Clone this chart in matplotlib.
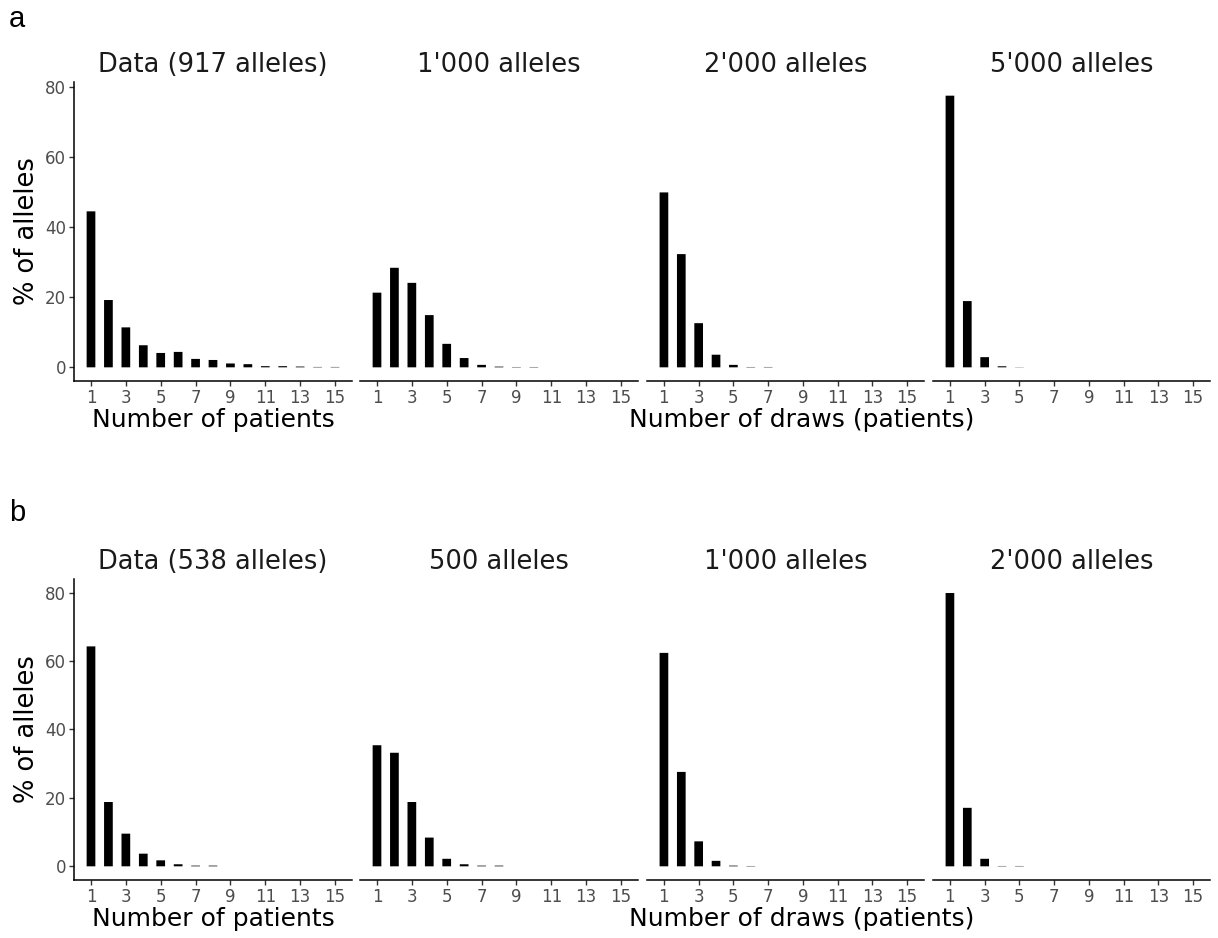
import matplotlib
matplotlib.use("Agg")
import matplotlib.pyplot as plt

# ---------------- data ----------------
patients = list(range(1, 16))
xticks = [1, 3, 5, 7, 9, 11, 13, 15]
yticks = [0, 20, 40, 60, 80]

titles_a = ["Data (917 alleles)", "1'000 alleles", "2'000 alleles", "5'000 alleles"]
data_a = [44.5, 19.2, 11.4, 6.3, 4.1, 4.4, 2.4, 2.1, 1.1, 0.9, 0.33, 0.33, 0.22, 0.11, 0.11]
sim_a_1000 = [21.3, 28.4, 24.1, 14.9, 6.7, 2.65, 0.7, 0.2, 0.1, 0.1, 0, 0, 0, 0, 0]
sim_a_2000 = [49.9, 32.3, 12.6, 3.6, 0.7, 0.1, 0.1, 0, 0, 0, 0, 0, 0, 0, 0]
sim_a_5000 = [77.5, 18.9, 2.9, 0.3, 0.05, 0, 0, 0, 0, 0, 0, 0, 0, 0, 0]

titles_b = ["Data (538 alleles)", "500 alleles", "1'000 alleles", "2'000 alleles"]
data_b = [64.3, 18.8, 9.55, 3.7, 1.75, 0.6, 0.2, 0.2, 0, 0, 0, 0, 0, 0, 0]
sim_b_500 = [35.4, 33.2, 18.8, 8.4, 2.2, 0.6, 0.2, 0.2, 0, 0, 0, 0, 0, 0, 0]
sim_b_1000 = [62.4, 27.6, 7.3, 1.6, 0.2, 0.1, 0, 0, 0, 0, 0, 0, 0, 0, 0]
sim_b_2000 = [79.9, 17.1, 2.2, 0.1, 0.1, 0, 0, 0, 0, 0, 0, 0, 0, 0, 0]

rows = [
    ("a", titles_a, [data_a, sim_a_1000, sim_a_2000, sim_a_5000], (-3.9, 81.4)),
    ("b", titles_b, [data_b, sim_b_500, sim_b_1000, sim_b_2000], (-4.0, 84.0)),
]

# ---------------- layout ----------------
W, H = 1218, 938
fig = plt.figure(figsize=(W / 100, H / 100), dpi=100)
plt.rcParams['font.family'] = ['DejaVu Sans']

col_px = [(74, 352), (360, 638), (647, 924), (933, 1210)]
row_px = [(82, 381), (579, 880)]
letter_y = [19, 513]

tick_gray = "#4D4D4D"
for r, (letter, titles, series, ylim) in enumerate(rows):
    top, bot = row_px[r]
    fig.text(9 / W, 1 - letter_y[r] / H, letter, fontsize=21, ha="left", va="center",
             family=["Liberation Sans"])
    for c in range(4):
        l, rr = col_px[c]
        ax = fig.add_axes([l / W, 1 - bot / H, (rr - l) / W, (bot - top) / H])
        xs = [x for x, v in zip(patients, series[c]) if v > 0]
        vs = [v for v in series[c] if v > 0]
        bars = ax.bar(xs, vs, width=0.5, color="black", linewidth=0)
        for b in bars:
            b.set_snap(False)
        ax.set_xlim(0.025, 15.975)
        ax.set_ylim(*ylim)
        ax.set_xticks(xticks)
        ax.set_xticklabels([str(t) for t in xticks])
        for s in ["top", "right"]:
            ax.spines[s].set_visible(False)
        ax.spines["bottom"].set_linewidth(1.1)
        ax.spines["left"].set_linewidth(1.1)
        ax.tick_params(axis="both", length=3.5, width=1.0, color="#333333",
                       labelsize=12, labelcolor=tick_gray, pad=2)
        if c == 0:
            ax.set_yticks(yticks)
        else:
            ax.spines["left"].set_visible(False)
            ax.set_yticks([])
        cx = (l + rr) / 2
        fig.text(cx / W, 1 - (top - 10) / H, titles[c], fontsize=18.5, color="#1A1A1A",
                 ha="center", va="baseline")
    # axis labels
    fig.text(27 / W, 1 - ((top + bot) / 2) / H, "% of alleles", fontsize=18.5,
             rotation=90, ha="center", va="center")
    l0, r0 = col_px[0]
    fig.text(((l0 + r0) / 2) / W, 1 - (bot + 46) / H, "Number of patients",
             fontsize=18, ha="center", va="baseline")
    fig.text(802 / W, 1 - (bot + 46) / H, "Number of draws (patients)",
             fontsize=18, ha="center", va="baseline")

fig.savefig("out.png", dpi=100)
